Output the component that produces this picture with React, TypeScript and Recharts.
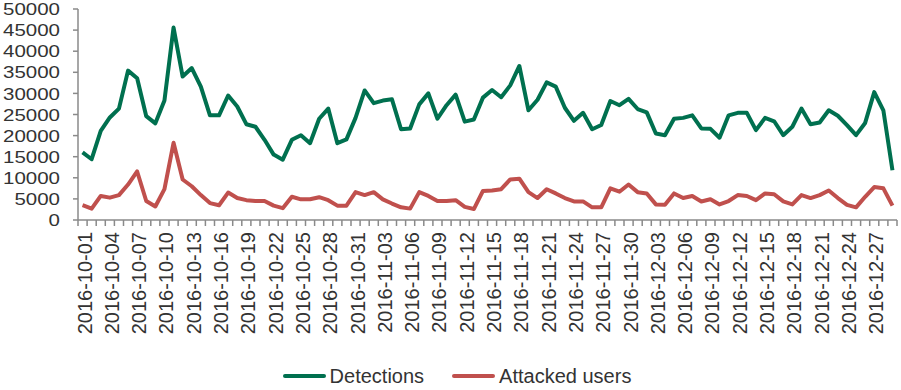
import React from 'react';
import { LineChart, Line, XAxis, YAxis, Legend } from 'recharts';

// daily categories, 2016-10-01 .. 2016-12-29
const months = [
  { m: '10', days: 31 },
  { m: '11', days: 30 },
  { m: '12', days: 29 },
];
const dates: string[] = [];
months.forEach(({ m, days }) => {
  for (let d = 1; d <= days; d++) dates.push(`2016-${m}-${String(d).padStart(2, '0')}`);
});

const detections = [
  16000, 14400, 21100, 24300, 26400, 35400, 33600, 24600, 22900, 28300,
  45600, 34000, 36000, 31600, 24800, 24800, 29500, 26900, 22700, 22100,
  19000, 15500, 14300, 19000, 20100, 18200, 24000, 26400, 18200, 19100,
  24200, 30700, 27700, 28300, 28600, 21500, 21700, 27400, 30000, 24000,
  27200, 29700, 23300, 23800, 29000, 30800, 29100, 31900, 36500, 26000,
  28500, 32600, 31600, 26600, 23500, 25400, 21500, 22500, 28200, 27200,
  28700, 26300, 25500, 20500, 20100, 24000, 24200, 24800, 21700, 21600,
  19500, 24800, 25400, 25400, 21300, 24200, 23400, 20100, 22100, 26400,
  22700, 23100, 26000, 24700, 22500, 20100, 23000, 30300, 26000, 11800,
];

const attackedUsers = [
  3500, 2700, 5700, 5300, 5900, 8400, 11500, 4500, 3200, 7300,
  18300, 9600, 8000, 5900, 4000, 3500, 6500, 5200, 4700, 4500,
  4500, 3400, 2800, 5500, 4900, 4900, 5400, 4700, 3400, 3400,
  6600, 5900, 6600, 4900, 3900, 3000, 2700, 6600, 5700, 4500,
  4500, 4700, 3100, 2600, 6900, 7000, 7300, 9600, 9800, 6600,
  5200, 7300, 6300, 5200, 4400, 4400, 3000, 3000, 7500, 6700,
  8400, 6600, 6300, 3700, 3600, 6300, 5200, 5700, 4400, 4900,
  3700, 4500, 5900, 5700, 4700, 6300, 6100, 4400, 3700, 5900,
  5200, 5900, 7000, 5200, 3600, 3000, 5500, 7800, 7500, 3400,
];

const yTicks = [0, 5000, 10000, 15000, 20000, 25000, 30000, 35000, 40000, 45000, 50000];

const data = dates.map((date, i) => ({
  date,
  detections: detections[i],
  attacked: attackedUsers[i],
}));

const W = 901;
const H = 390;
const M = { top: 9, right: 4, bottom: 2, left: 0 };
const Y_W = 78;
const PLOT_W = W - M.left - M.right - Y_W;
const BAND = PLOT_W / dates.length;

const GREEN = '#00704f';
const RED = '#c0504d';
const AXIS = '#8a8a8a';
const TEXT = '#333333';
const FONT = '"Liberation Sans", Arial, sans-serif';

const DateTick = (props: any) => {
  const { x, y, payload, index } = props;
  const i = payload?.index ?? index;
  const last = i === dates.length - 1;
  return (
    <g>
      <line x1={x - BAND / 2} x2={x - BAND / 2} y1={y} y2={y + 6} stroke={AXIS} strokeWidth={1.5} />
      {last && <line x1={x + BAND / 2} x2={x + BAND / 2} y1={y} y2={y + 6} stroke={AXIS} strokeWidth={1.5} />}
      {i % 3 === 0 && (
        <text
          x={x}
          y={y + 12}
          dy={9}
          transform={`rotate(-90, ${x}, ${y + 12})`}
          textAnchor="end"
          fontSize={20}
          fontFamily={FONT}
          fill={TEXT}
        >
          {payload.value}
        </text>
      )}
    </g>
  );
};

// y labels in the reference are wide and a little flat
const ValueTick = (props: any) => {
  const { x, y, payload } = props;
  const label = String(payload.value);
  return (
    <text
      x={x}
      y={y}
      dy="0.36em"
      textAnchor="end"
      fontSize={17}
      fontFamily={FONT}
      fill={TEXT}
      textLength={label.length * 11.4}
      lengthAdjust="spacingAndGlyphs"
    >
      {label}
    </text>
  );
};

const LegendContent = () => (
  <div
    style={{
      display: 'flex',
      justifyContent: 'center',
      alignItems: 'center',
      height: 24,
      paddingLeft: 17,
      fontFamily: FONT,
      fontSize: 20,
      color: TEXT,
    }}
  >
    {[
      { name: 'Detections', color: GREEN },
      { name: 'Attacked users', color: RED },
    ].map((it, k) => (
      <div key={it.name} style={{ display: 'flex', alignItems: 'center', marginLeft: k ? 28 : 0 }}>
        <div style={{ width: 43, height: 4, borderRadius: 2, background: it.color, marginRight: 4 }} />
        <span>{it.name}</span>
      </div>
    ))}
  </div>
);

export default function App() {
  return (
    <div style={{ position: 'absolute', left: 0, top: 0, width: W, height: H, background: '#fff' }}>
      <LineChart width={W} height={H} data={data} margin={M}>
        <XAxis
          dataKey="date"
          interval={0}
          padding={{ left: BAND / 2, right: BAND / 2 }}
          height={144}
          tickSize={0}
          tickMargin={0}
          tickLine={false}
          axisLine={{ stroke: AXIS, strokeWidth: 1.5 }}
          tick={<DateTick />}
        />
        <YAxis
          width={Y_W}
          domain={[0, 50000]}
          ticks={yTicks}
          interval={0}
          tickSize={5}
          tickMargin={13}
          axisLine={{ stroke: AXIS, strokeWidth: 1.5 }}
          tickLine={{ stroke: AXIS, strokeWidth: 1.5 }}
          tick={<ValueTick />}
        />
        <Legend verticalAlign="bottom" height={24} content={<LegendContent />} />
        <Line
          type="linear"
          dataKey="detections"
          name="Detections"
          stroke={GREEN}
          strokeWidth={4}
          dot={false}
          strokeLinejoin="round"
          isAnimationActive={false}
        />
        <Line
          type="linear"
          dataKey="attacked"
          name="Attacked users"
          stroke={RED}
          strokeWidth={4}
          dot={false}
          strokeLinejoin="round"
          isAnimationActive={false}
        />
      </LineChart>
    </div>
  );
}
